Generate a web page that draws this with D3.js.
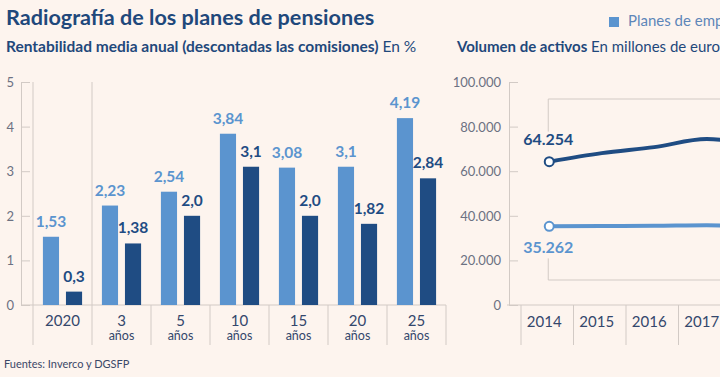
<!DOCTYPE html>
<html>
<head>
<meta charset="utf-8">
<script src="https://cdn.jsdelivr.net/npm/d3@7"></script>
<style>
  body { margin: 0; background: #fdf4ee; }
  svg { display: block; font-family: Lato, "Open Sans", sans-serif; }
</style>
</head>
<body>
<div id="chart"></div>
<script>
// Rentabilidad media anual (%)
const periods = ["2020", "3", "5", "10", "15", "20", "25"];
const periodSub = ["", "años", "años", "años", "años", "años", "años"];
const empleo = [1.53, 2.23, 2.54, 3.84, 3.08, 3.1, 4.19];
const individual = [0.3, 1.38, 2.0, 3.1, 2.0, 1.82, 2.84];
const empleoLabels = ["1,53", "2,23", "2,54", "3,84", "3,08", "3,1", "4,19"];
const individualLabels = ["0,3", "1,38", "2,0", "3,1", "2,0", "1,82", "2,84"];
const pctTicks = [0, 1, 2, 3, 4, 5];

// Volumen de activos (millones de euros)
const years = ["2014", "2015", "2016", "2017", "2018"];
const volIndividual = [64254, 68100, 70800, 74400, 70500];
const volEmpleo = [35262, 35400, 35500, 35800, 34200];
const volTicks = [0, 20000, 40000, 60000, 80000, 100000];
const volTickLabels = ["0", "20.000", "40.000", "60.000", "80.000", "100.000"];

const color = {
    light: "#5b94cf",
    dark: "#1f4c83",
    title: "#1f487b",
    axis: "#d2cac5",
    tick: "#6c7182",
    cat: "#34476c"
};

const width = 720, height = 377;

const svg = d3.select("#chart")
    .append("svg")
    .attr("width", width)
    .attr("height", height);

svg.append("rect").attr("width", width).attr("height", height).attr("fill", "#fdf4ee");

// Titles
svg.append("text")
    .attr("x", 6).attr("y", 25)
    .attr("fill", color.title)
    .attr("font-size", "21.6px")
    .attr("font-weight", 700)
    .text("Radiografía de los planes de pensiones");

const sub1 = svg.append("text")
    .attr("x", 6).attr("y", 52)
    .attr("fill", color.title)
    .attr("font-size", "15.5px");
sub1.append("tspan").attr("font-weight", 700).text("Rentabilidad media anual (descontadas las comisiones)");
sub1.append("tspan").text(" En %");

const sub2 = svg.append("text")
    .attr("x", 457).attr("y", 52)
    .attr("fill", color.title)
    .attr("font-size", "15px");
sub2.append("tspan").attr("font-weight", 700).text("Volumen de activos");
sub2.append("tspan").text(" En millones de euros");

// Legend
const legend = svg.append("g");
legend.append("rect")
    .attr("x", 609).attr("y", 17)
    .attr("width", 10).attr("height", 10)
    .attr("fill", color.light);
legend.append("text")
    .attr("x", 628).attr("y", 26)
    .attr("fill", "#5d86b9")
    .attr("font-size", "15px")
    .text("Planes de empleo");

// Footer
svg.append("text")
    .attr("x", 4).attr("y", 368)
    .attr("fill", "#3b4868")
    .attr("font-size", "11px")
    .text("Fuentes: Inverco y DGSFP");

// ---------- Left: bar chart ----------
const y = d3.scaleLinear().domain([0, 5]).range([305, 82]);

const x0 = d3.scaleBand().domain(periods).range([33, 446]);
const x1 = d3.scaleBand().domain(["empleo", "individual"])
    .range([0, x0.bandwidth()])
    .paddingInner(0.3)
    .paddingOuter(0.43);

const left = svg.append("g");

// y axis
const yAxis = d3.axisRight(y).tickValues(pctTicks).tickSize(9).tickFormat("");
left.append("g")
    .attr("transform", "translate(21,0)")
    .call(yAxis)
    .call(g => g.select(".domain").attr("stroke", color.axis))
    .call(g => g.selectAll(".tick line").attr("stroke", color.axis));

left.selectAll(".ylab")
    .data(pctTicks)
    .enter().append("text")
    .attr("x", 14)
    .attr("y", d => y(d) + 5)
    .attr("text-anchor", "end")
    .attr("fill", color.tick)
    .attr("font-size", "13px")
    .text(d => d);

// baseline
left.append("line")
    .attr("x1", 21).attr("x2", x0.range()[1])
    .attr("y1", y(0)).attr("y2", y(0))
    .attr("stroke", color.axis);

// separators
const seps = periods.map(p => x0(p)).concat([x0.range()[1]]);
left.selectAll(".sep")
    .data(seps)
    .enter().append("line")
    .attr("x1", d => d).attr("x2", d => d)
    .attr("y1", (d, i) => i < 2 ? y(5) : y(0))
    .attr("y2", 345)
    .attr("stroke", color.axis);

// bars
left.selectAll(".bar-empleo")
    .data(empleo)
    .enter().append("rect")
    .attr("x", (d, i) => x0(periods[i]) + x1("empleo"))
    .attr("y", d => y(d))
    .attr("width", x1.bandwidth())
    .attr("height", d => y(0) - y(d))
    .attr("fill", color.light);

left.selectAll(".bar-individual")
    .data(individual)
    .enter().append("rect")
    .attr("x", (d, i) => x0(periods[i]) + x1("individual"))
    .attr("y", d => y(d))
    .attr("width", x1.bandwidth())
    .attr("height", d => y(0) - y(d))
    .attr("fill", color.dark);

// value labels
left.selectAll(".lab-empleo")
    .data(empleo)
    .enter().append("text")
    .attr("x", (d, i) => x0(periods[i]) + x1("empleo") + x1.bandwidth() / 2)
    .attr("y", d => y(d) - 10)
    .attr("text-anchor", "middle")
    .attr("fill", color.light)
    .attr("font-size", "15.5px")
    .attr("font-weight", 700)
    .text((d, i) => empleoLabels[i]);

left.selectAll(".lab-individual")
    .data(individual)
    .enter().append("text")
    .attr("x", (d, i) => x0(periods[i]) + x1("individual") + x1.bandwidth() / 2)
    .attr("y", d => y(d) - 10)
    .attr("text-anchor", "middle")
    .attr("fill", color.dark)
    .attr("font-size", "15.5px")
    .attr("font-weight", 700)
    .text((d, i) => individualLabels[i]);

// category labels
left.selectAll(".cat")
    .data(periods)
    .enter().append("text")
    .attr("x", d => x0(d) + x0.bandwidth() / 2)
    .attr("y", 326)
    .attr("text-anchor", "middle")
    .attr("fill", color.cat)
    .attr("font-size", "15px")
    .text(d => d);

left.selectAll(".catsub")
    .data(periodSub)
    .enter().append("text")
    .attr("x", (d, i) => x0(periods[i]) + x0.bandwidth() / 2)
    .attr("y", 340)
    .attr("text-anchor", "middle")
    .attr("fill", color.cat)
    .attr("font-size", "12.5px")
    .text(d => d);

// ---------- Right: line chart ----------
const yv = d3.scaleLinear().domain([0, 100000]).range([305, 82]);
const xv = d3.scaleBand().domain(years).range([521, 521 + 52.5 * years.length]);
const px = d => xv(d) + xv.bandwidth() / 2 + 2;

const right = svg.append("g");

right.append("g")
    .attr("transform", "translate(509,0)")
    .call(d3.axisRight(yv).tickValues(volTicks).tickSize(9).tickFormat(""))
    .call(g => g.select(".domain").attr("stroke", color.axis))
    .call(g => g.selectAll(".tick line").attr("stroke", color.axis));

right.selectAll(".ylab")
    .data(volTicks)
    .enter().append("text")
    .attr("x", 501)
    .attr("y", d => yv(d) + 5)
    .attr("text-anchor", "end")
    .attr("fill", color.tick)
    .attr("font-size", "13px")
    .text((d, i) => volTickLabels[i]);

right.append("line")
    .attr("x1", 507).attr("x2", width)
    .attr("y1", yv(0)).attr("y2", yv(0))
    .attr("stroke", color.axis);

right.selectAll(".sep")
    .data(years)
    .enter().append("line")
    .attr("x1", d => xv(d)).attr("x2", d => xv(d))
    .attr("y1", yv(0)).attr("y2", 345)
    .attr("stroke", color.axis);

right.selectAll(".cat")
    .data(years)
    .enter().append("text")
    .attr("x", d => xv(d) + xv.bandwidth() / 2 - 3)
    .attr("y", 327)
    .attr("text-anchor", "middle")
    .attr("fill", color.cat)
    .attr("font-size", "15px")
    .text(d => d);

// brackets
right.append("path")
    .attr("d", `M${px(years[0]) - 1},${yv(80000) + 5}V99H${width + 10}`)
    .attr("fill", "none")
    .attr("stroke", color.axis);
right.append("path")
    .attr("d", `M${px(years[0]) - 1},${yv(20000) - 2}V280H${width + 10}`)
    .attr("fill", "none")
    .attr("stroke", color.axis);

const line = d3.line()
    .x((d, i) => px(years[i]))
    .y(d => yv(d))
    .curve(d3.curveMonotoneX);

right.append("path")
    .datum(volEmpleo)
    .attr("d", line)
    .attr("fill", "none")
    .attr("stroke", color.light)
    .attr("stroke-width", 4);

right.append("path")
    .datum(volIndividual)
    .attr("d", line)
    .attr("fill", "none")
    .attr("stroke", color.dark)
    .attr("stroke-width", 4);

right.append("circle")
    .attr("cx", px(years[0])).attr("cy", yv(volIndividual[0]))
    .attr("r", 4.5)
    .attr("fill", "#fff").attr("stroke", color.dark).attr("stroke-width", 2);
right.append("circle")
    .attr("cx", px(years[0])).attr("cy", yv(volEmpleo[0]))
    .attr("r", 4.5)
    .attr("fill", "#fff").attr("stroke", color.light).attr("stroke-width", 2);

right.append("text")
    .attr("x", px(years[0]) - 1).attr("y", 145)
    .attr("text-anchor", "middle")
    .attr("fill", color.dark)
    .attr("font-size", "16px")
    .attr("font-weight", 700)
    .text(d3.format(",")(volIndividual[0]).replace(/,/g, "."));

right.append("text")
    .attr("x", px(years[0]) - 1).attr("y", 253)
    .attr("text-anchor", "middle")
    .attr("fill", color.light)
    .attr("font-size", "16px")
    .attr("font-weight", 700)
    .text(d3.format(",")(volEmpleo[0]).replace(/,/g, "."));
</script>
</body>
</html>
